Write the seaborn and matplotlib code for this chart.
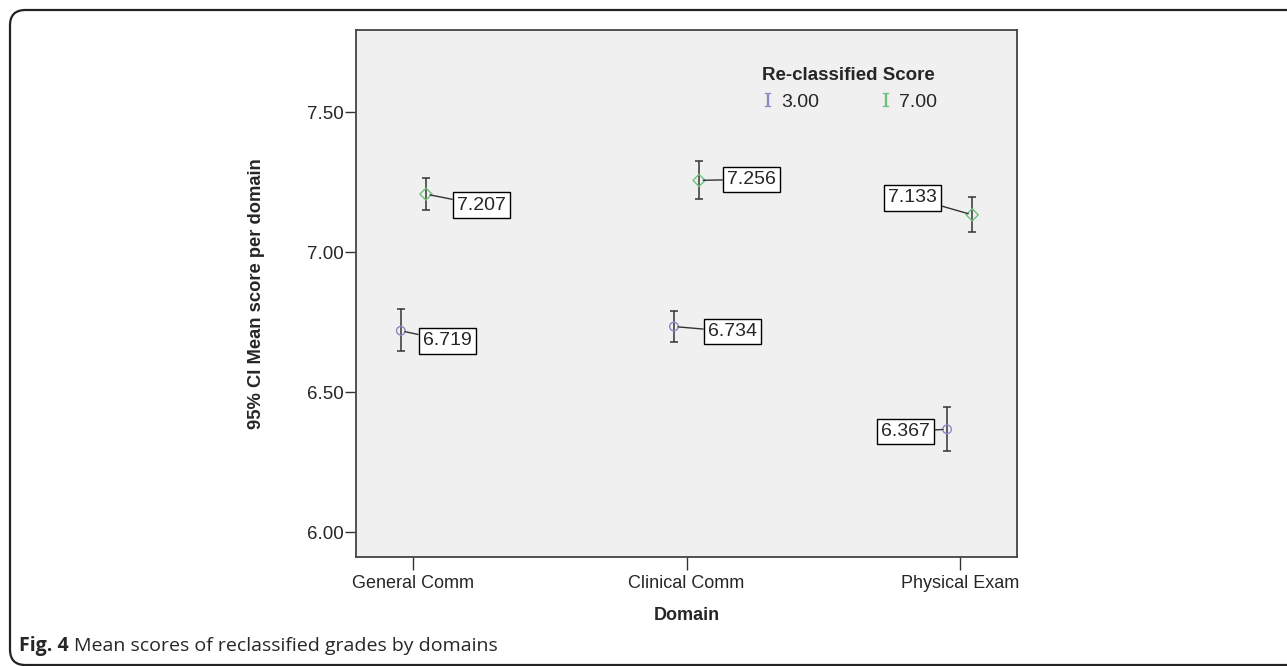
import pandas as pd
import seaborn as sns
import matplotlib.pyplot as plt
from matplotlib.lines import Line2D
from matplotlib.patches import FancyBboxPatch

# data
domains = ["General Comm", "Clinical Comm", "Physical Exam"]
groups = ["3.00", "7.00"]
mean_300 = [6.719, 6.734, 6.367]
low_300 = [6.645, 6.680, 6.290]
high_300 = [6.795, 6.790, 6.445]
mean_700 = [7.207, 7.256, 7.133]
low_700 = [7.150, 7.190, 7.070]
high_700 = [7.265, 7.325, 7.195]

colors = {"3.00": "#8a8ac8", "7.00": "#6cc07c"}
markers = {"3.00": "o", "7.00": "D"}
dodge = {"3.00": -0.046, "7.00": 0.046}
# label box offsets in pixels (dx, dy, ha)
label_pos = {
    ("3.00", 0): (22, -10, "left"), ("7.00", 0): (31, -11, "left"),
    ("3.00", 1): (34, -5, "left"), ("7.00", 1): (28, 1, "left"),
    ("3.00", 2): (-17, -2, "right"), ("7.00", 2): (-35, 17, "right"),
}

rows = []
for g, m, lo, hi in [("3.00", mean_300, low_300, high_300),
                     ("7.00", mean_700, low_700, high_700)]:
    for i, d in enumerate(domains):
        rows.append({"domain": d, "idx": i, "group": g, "x": i + dodge[g],
                     "mean": m[i], "low": lo[i], "high": hi[i]})
df = pd.DataFrame(rows)

sns.set_style("ticks")
plt.rcParams["font.family"] = ["Liberation Sans", "DejaVu Sans"]
plt.rcParams["mathtext.fontset"] = "dejavuserif"

fig = plt.figure(figsize=(12.87, 6.66), dpi=100)
ax = fig.add_axes([356 / 1287, 1 - 557 / 666, (1017 - 356) / 1287, (557 - 30) / 666])
ax.set_facecolor("#f0f0f0")

ax.errorbar(df["x"], df["mean"], yerr=[df["mean"] - df["low"], df["high"] - df["mean"]],
            fmt="none", ecolor="#333333", elinewidth=1.1, capsize=3, capthick=1.1, zorder=2)

sns.scatterplot(data=df, x="x", y="mean", hue="group", style="group",
                palette=colors, markers=markers, s=38, legend=False, ax=ax, zorder=3)
coll = ax.collections[-1]
coll.set_edgecolors(coll.get_facecolors())
coll.set_facecolors("none")
coll.set_linewidths(1.0)

for _, r in df.iterrows():
    dx, dy, ha = label_pos[(r["group"], r["idx"])]
    ax.annotate(f"{r['mean']:.3f}", xy=(r["x"], r["mean"]), xytext=(dx, dy),
                textcoords="offset pixels", ha=ha, va="center", fontsize=14,
                bbox=dict(boxstyle="square,pad=0.22", fc="white", ec="black", lw=1),
                arrowprops=dict(arrowstyle="-", color="#333333", lw=1, shrinkA=0, shrinkB=3),
                zorder=4)

ax.set_xlim(-0.21, 2.21)
ax.set_ylim(5.911, 7.793)
ax.set_xticks(range(len(domains)))
ax.set_xticklabels(domains)
ax.set_yticks([6.0, 6.5, 7.0, 7.5])
ax.set_yticklabels(["6.00", "6.50", "7.00", "7.50"])
ax.tick_params(axis="y", length=8, width=1, color="#333333", labelsize=13.5, pad=1)
ax.tick_params(axis="x", length=9, width=1, color="#333333", labelsize=13, pad=4)
for sp in ax.spines.values():
    sp.set_visible(True)
    sp.set_color("#444444")
    sp.set_linewidth(1.3)

ax.set_xlabel("Domain", fontsize=13, fontweight="bold", labelpad=11)
ax.set_ylabel("95% CI Mean score per domain", fontsize=13.2, fontweight="bold", labelpad=30)

handles = [Line2D([], [], marker=r"$\mathrm{I}$", linestyle="none", color=colors[g],
                  markersize=10, markeredgewidth=0.2) for g in groups]
leg = ax.legend(handles, groups, title="Re-classified Score", ncol=2, frameon=False,
                loc="upper left", bbox_to_anchor=(744 / 1287, 1 - 49 / 666),
                bbox_transform=fig.transFigure, fontsize=14, handlelength=0.7,
                handletextpad=0.3, columnspacing=3.1)
leg.get_title().set_fontweight("bold")
leg.get_title().set_fontsize(13.5)
leg._legend_box.align = "left"

# rounded frame around the whole figure and caption
frame = FancyBboxPatch((10 / 1287, 1 / 666), 1.05, 1 - 11 / 666,
                       boxstyle="round,pad=0,rounding_size=0.012",
                       transform=fig.transFigure, fill=False, ec="#222222", lw=1.6,
                       mutation_aspect=1287 / 666)
fig.patches.append(frame)
fig.text(19 / 1287, 1 - 646 / 666, "Fig. 4", fontsize=14, fontweight="bold",
         family=["Open Sans", "DejaVu Sans"], va="center")
fig.text(74 / 1287, 1 - 646 / 666, "Mean scores of reclassified grades by domains",
         fontsize=14, family=["Open Sans", "DejaVu Sans"], va="center")

fig.savefig("out.png", dpi=100, facecolor="white")
